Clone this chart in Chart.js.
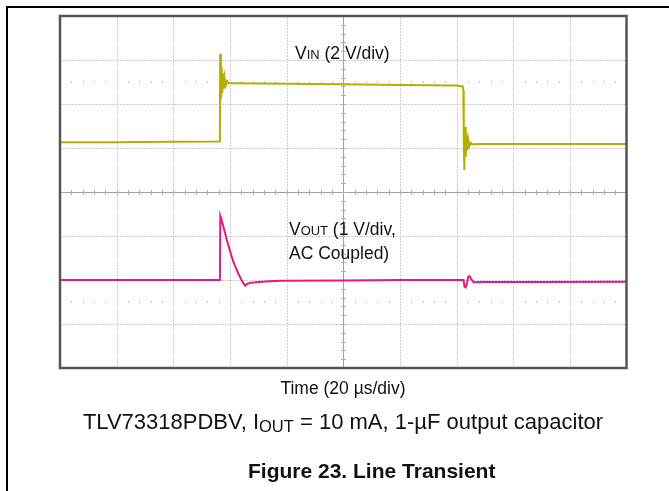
<!DOCTYPE html>
<html>
<head>
<meta charset="utf-8">
<script src="https://cdn.jsdelivr.net/npm/chart.js@4.4.1/dist/chart.umd.min.js"></script>
<style>
  body { margin: 0; background: #fff; font-family: "Liberation Sans", Arial, sans-serif; color: #111; }
  #page { position: relative; width: 669px; height: 491px; overflow: hidden; }
  #frame { position: absolute; left: 6px; top: 6px; width: 700px; height: 520px; border-left: 2px solid #000; border-top: 2px solid #000; }
  canvas { position: absolute; left: 0; top: 0; }
  .lbl { position: absolute; white-space: nowrap; font-size: 17.5px; }
  .lbl .s { font-size: 74%; }
  .cap { position: absolute; left: 0; width: 686px; text-align: center; white-space: nowrap; }
  .cap sub { font-size: 75%; vertical-align: -0.2em; line-height: 0; }
  .title { position: absolute; left: 248px; top: 460px; white-space: nowrap; font-size: 21px; line-height: 21px; font-weight: bold; }
</style>
</head>
<body>
<div id="page">
  <div id="frame"></div>
  <canvas id="chart" width="669" height="491"></canvas>
  <div class="lbl" style="left:295px; top:45px; line-height:17px;">V<span class="s">IN</span> (2 V/div)</div>
  <div class="lbl" style="left:289px; top:218px; line-height:23px;">V<span class="s">OUT</span> (1 V/div,<br>AC Coupled)</div>
  <div class="cap" style="top:380px; font-size:17.5px; line-height:17px;">Time (20 µs/div)</div>
  <div class="cap" style="top:411px; font-size:22px; line-height:22px;">TLV73318PDBV, I<sub>OUT</sub> = 10 mA, 1-µF output capacitor</div>
  <div class="title">Figure 23. Line Transient</div>
</div>
<script>
// scope screen: x in µs (20 µs/div, 10 div), y in screen divisions (8 div)
const xTicks = [0, 20, 40, 60, 80, 100, 120, 140, 160, 180, 200];
const yTicks = [-4, -3, -2, -1, 0, 1, 2, 3, 4];

// VIN (2 V/div)
const vinTime = [0, 20, 40, 56.45, 56.55, 56.8, 57.05, 57.3, 57.55, 57.8, 58.1, 58.5, 59, 59.6, 61,
  80, 100, 120, 140, 142.2, 142.4, 142.55, 142.75, 143.0, 143.25, 143.5, 143.8, 144.1, 144.5, 145, 145.6, 147, 170, 200];
const vinDiv = [1.13, 1.13, 1.14, 1.15, 3.14, 2.1, 2.85, 2.25, 2.7, 2.35, 2.6, 2.42, 2.52, 2.47, 2.47,
  2.46, 2.45, 2.43, 2.42, 2.40, 2.3, 1.2, 0.5, 1.48, 0.8, 1.3, 0.95, 1.2, 1.04, 1.12, 1.08, 1.09, 1.09, 1.09];

// VOUT (1 V/div, AC coupled)
const voutTime = [0, 20, 40, 56.45, 56.6, 57.0, 57.7, 58.9, 60.1, 61.2, 62.4, 63.6, 64.6, 65.4, 66.0, 67.1, 70, 74, 78,
  100, 120, 142.5, 142.8, 143.2, 143.6, 144.1, 144.6, 145.2, 146, 150, 170, 200];
const voutDiv = [-2.0, -2.0, -2.0, -2.0, -0.545, -0.62, -0.789, -1.091, -1.357, -1.584, -1.773, -1.939, -2.06, -2.13, -2.09, -2.065, -2.045, -2.03, -2.015,
  -2.01, -2.0, -2.0, -2.15, -2.17, -2.1, -1.93, -1.91, -1.98, -2.05, -2.045, -2.045, -2.04];

const toPoints = (xs, ys) => xs.map((t, i) => ({x: t, y: ys[i]}));

const scopeGrid = {
  id: 'scopeGrid',
  beforeDatasetsDraw(chart) {
    const {ctx, chartArea: a, scales: {x, y}} = chart;
    ctx.save();
    ctx.lineWidth = 1;
    ctx.strokeStyle = '#cdcdcd';
    ctx.setLineDash([2, 1]);
    xTicks.slice(1, -1).forEach(t => {
      const px = Math.round(x.getPixelForValue(t)) + 0.5;
      ctx.beginPath(); ctx.moveTo(px, a.top); ctx.lineTo(px, a.bottom); ctx.stroke();
    });
    yTicks.slice(1, -1).forEach(d => {
      const py = Math.round(y.getPixelForValue(d)) + 0.5;
      ctx.beginPath(); ctx.moveTo(a.left, py); ctx.lineTo(a.right, py); ctx.stroke();
    });
    ctx.setLineDash([]);

    // dotted marker rows at +/-2.5 div
    ctx.fillStyle = '#c4c4c4';
    [2.5, -2.5].forEach(d => {
      const py = Math.round(y.getPixelForValue(d));
      for (let t = 4; t < 200; t += 4) {
        if (t % 20 === 0) continue;
        ctx.fillRect(Math.round(x.getPixelForValue(t)), py - 1, 1, 2);
      }
    });

    // centre axes with minor ticks
    ctx.strokeStyle = '#a0a0a0';
    const cy = Math.round(y.getPixelForValue(0)) + 0.5;
    const cx = Math.round(x.getPixelForValue(100)) + 0.5;
    ctx.beginPath(); ctx.moveTo(a.left, cy); ctx.lineTo(a.right, cy); ctx.stroke();
    ctx.beginPath(); ctx.moveTo(cx, a.top); ctx.lineTo(cx, a.bottom); ctx.stroke();
    ctx.strokeStyle = '#b0b0b0';
    for (let t = 4; t < 200; t += 4) {
      const px = Math.round(x.getPixelForValue(t)) + 0.5;
      ctx.beginPath(); ctx.moveTo(px, cy - 2.5); ctx.lineTo(px, cy + 2.5); ctx.stroke();
    }
    for (let d = -3.8; d < 4; d += 0.2) {
      const py = Math.round(y.getPixelForValue(d)) + 0.5;
      ctx.beginPath(); ctx.moveTo(cx - 2.5, py); ctx.lineTo(cx + 2.5, py); ctx.stroke();
    }
    ctx.restore();
  },
  afterDatasetsDraw(chart) {
    const {ctx, chartArea: a} = chart;
    ctx.save();
    ctx.strokeStyle = '#555555';
    ctx.lineWidth = 2.5;
    ctx.strokeRect(a.left, a.top, a.right - a.left, a.bottom - a.top);
    ctx.restore();
  }
};

new Chart(document.getElementById('chart'), {
  type: 'line',
  data: {
    datasets: [{
      label: 'VIN',
      data: toPoints(vinTime, vinDiv),
      borderColor: '#b5ae00',
      borderWidth: 2,
      pointRadius: 0,
      tension: 0
    }, {
      label: 'VOUT',
      data: toPoints(voutTime, voutDiv),
      borderColor: '#e8187f',
      borderWidth: 2,
      pointRadius: 0,
      tension: 0
    }]
  },
  options: {
    responsive: false,
    animation: false,
    layout: { padding: { left: 60, top: 16, right: 42.5, bottom: 123 } },
    plugins: { legend: { display: false }, tooltip: { enabled: false } },
    scales: {
      x: { type: 'linear', min: 0, max: 200, display: false },
      y: { type: 'linear', min: -4, max: 4, display: false }
    }
  },
  plugins: [scopeGrid]
});
</script>
</body>
</html>
